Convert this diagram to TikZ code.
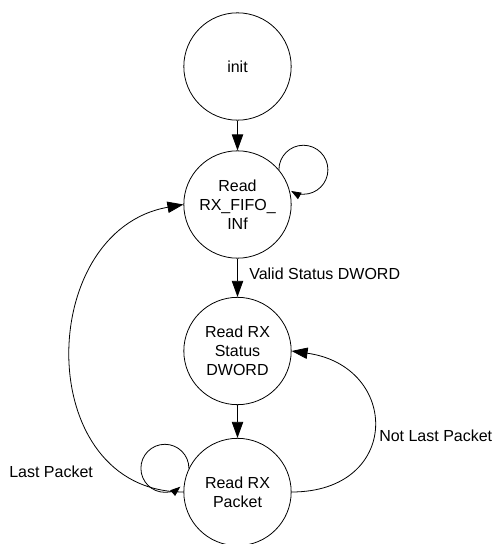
\documentclass[tikz,border=0pt]{standalone}
\usepackage{fontspec}
\setmainfont{Liberation Sans}
\usetikzlibrary{arrows.meta}

\begin{document}
\begin{tikzpicture}[x=0.75pt, y=0.75pt,
		stnode/.style = {draw, circle, line width=0.6pt, minimum size=80.5pt, inner sep=0pt, align=center, font=\fontsize{12}{14.3}\selectfont},
		tr/.style = {line width=0.6pt, -{Triangle[length=12pt, width=8.5pt]}},
		looptr/.style = {line width=0.6pt, -{Triangle[length=7.5pt, width=5.5pt]}},
		lbl/.style = {anchor=west, inner sep=0pt, font=\fontsize{12}{14.3}\selectfont}]
			\useasboundingbox (0,0) rectangle (495,544);
			
			\node[stnode] (init) at (237.5, 477.5) {init};
			\node[stnode] (fifo) at (237.5, 339.5) {Read\\RX\_FIFO\_\\INf};
			\node[stnode] (status) at (237.5, 193) {Read RX\\Status\\DWORD};
			\node[stnode] (packet) at (237.5, 52) {Read RX\\Packet};
			
			\draw[tr] (init) -- (fifo);
			\draw[tr] (fifo) -- (status);
			\draw[tr] (status) -- (packet);
			
			\draw[looptr] (fifo.40) arc[start angle=180, end angle=-120, radius=24.5];
			\draw[looptr] (packet.154) arc[start angle=0, end angle=310, radius=24];
			
			\draw[tr] (packet.west) to[out=180, in=190, looseness=1.35] (fifo.west);
			\draw[tr] (packet.east) to[out=0, in=-8, looseness=2] (status.east);
			
			\node[lbl] (valid) at (249, 270) {Valid Status DWORD};
			\node[lbl] (notlast) at (379, 108) {Not Last Packet};
			\node[lbl] (last) at (9, 72) {Last Packet};
		
		\end{tikzpicture}
\end{document}
